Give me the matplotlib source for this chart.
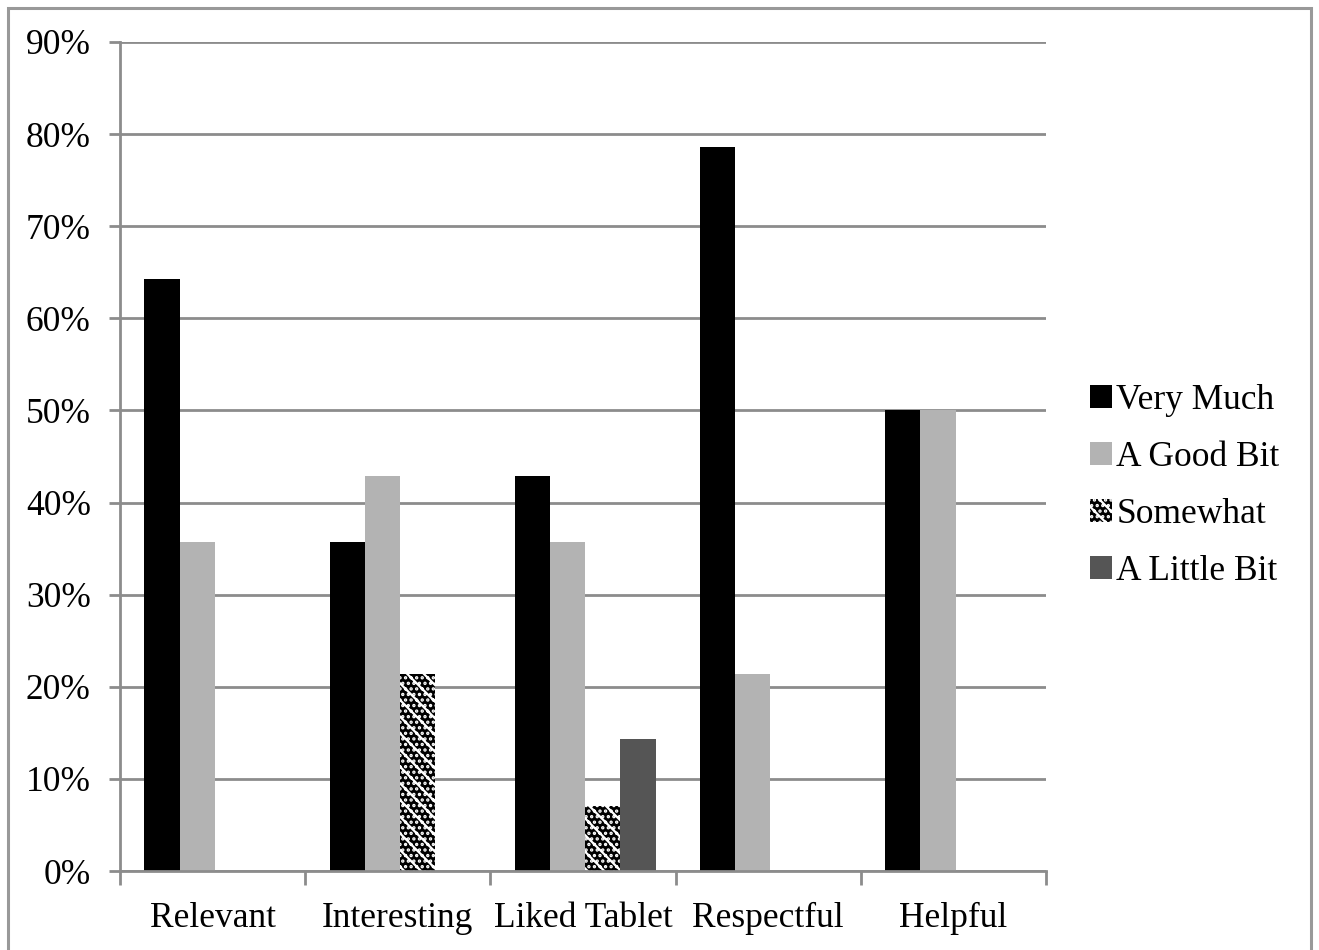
import matplotlib
matplotlib.use('Agg')
import matplotlib.pyplot as plt
from matplotlib.patches import Rectangle
from matplotlib.ticker import FixedLocator, PercentFormatter
import numpy as np

# survey answers, share of 14 respondents
categories = ['Relevant', 'Interesting', 'Liked Tablet', 'Respectful', 'Helpful']
series = ['Very Much', 'A Good Bit', 'Somewhat', 'A Little Bit']
very_much = [64.3, 35.7, 42.9, 78.6, 50.0]
good_bit = [35.7, 42.9, 35.7, 21.4, 50.0]
somewhat = [0.0, 21.4, 7.1, 0.0, 0.0]
little_bit = [0.0, 0.0, 14.3, 0.0, 0.0]
values = [very_much, good_bit, somewhat, little_bit]

plt.rcParams['font.family'] = ['Liberation Serif', 'DejaVu Serif']
plt.rcParams['hatch.linewidth'] = 1.6

grid_col = '#8c8c8c'
styles = [
    dict(color='#000000'),
    dict(color='#b3b3b3'),
    dict(facecolor='#000000', edgecolor='white', hatch='\\\\...', linewidth=0),
    dict(color='#555555'),
]

fig = plt.figure(figsize=(13.19, 9.5), dpi=100)
ax = fig.add_axes([120/1319, 79/950, 926/1319, 829/950])

x = np.arange(len(categories))
w = 0.19
for j, (name, vals) in enumerate(zip(series, values)):
    ax.bar(x + (j - 1.5) * w + 0.012, vals, width=w, label=name, zorder=3, **styles[j])

ax.set_xlim(-0.5, len(categories) - 0.5)
ax.set_ylim(0, 90)
ax.set_yticks(np.arange(0, 91, 10))
ax.yaxis.set_major_formatter(PercentFormatter(decimals=0))
ax.grid(axis='y', color=grid_col, linewidth=2.0, zorder=0)

ax.set_xticks(x)
ax.set_xticklabels(categories)
ax.xaxis.set_minor_locator(FixedLocator(np.arange(-0.5, len(categories), 1.0)))
ax.tick_params(axis='x', which='major', length=0, pad=22, labelsize=25.5)
ax.tick_params(axis='x', which='minor', length=10, width=2.0, color=grid_col)
ax.tick_params(axis='y', length=8, width=2.0, color=grid_col, pad=13, labelsize=25.5)

for side in ['top', 'right']:
    ax.spines[side].set_visible(False)
for side in ['left', 'bottom']:
    ax.spines[side].set_color(grid_col)
    ax.spines[side].set_linewidth(2.0)
    ax.spines[side].set_zorder(4)

handles, labels = ax.get_legend_handles_labels()
fig.legend(handles, labels, loc='center left', bbox_to_anchor=(1090/1319, 464/950),
           frameon=False, fontsize=25.5, handlelength=0.62, handleheight=0.62,
           handletextpad=0.12, labelspacing=0.68, borderpad=0, borderaxespad=0)

# outer frame around the whole chart
fig.patches.append(Rectangle((8/1319, -0.02), 1303/1319, 1.02 - 8/950,
                             transform=fig.transFigure, fill=False,
                             edgecolor='#999999', linewidth=2.2))

fig.savefig('out.png', dpi=100)
